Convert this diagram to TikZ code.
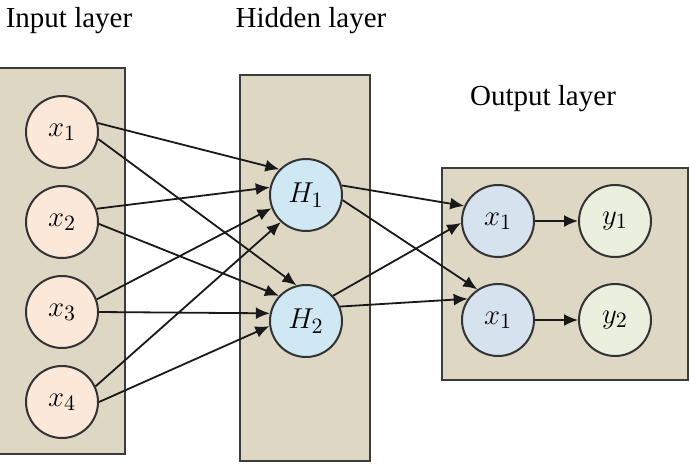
\documentclass[tikz,border=0pt]{standalone}
\usepackage{fontspec}
\setmainfont{Liberation Serif}
\newfontfamily\titlefont{Liberation Serif}
\usepackage{tikz}
\usetikzlibrary{arrows.meta, positioning, fit, backgrounds}
\definecolor{layerTan}{RGB}{221,215,195}
\definecolor{layerEdge}{RGB}{60,60,60}
\definecolor{inFill}{RGB}{252,232,216}
\definecolor{hidFill}{RGB}{208,232,243}
\definecolor{outFill}{RGB}{214,226,238}
\definecolor{resFill}{RGB}{234,239,222}

\begin{document}
\begin{tikzpicture}[
    x=0.5pt, y=-0.5pt,
    neuron/.style={circle, draw=black!80, line width=1pt, minimum size=36pt, inner sep=0pt, font=\fontsize{15}{17}\selectfont},
    layerbox/.style={rectangle, draw=layerEdge, line width=1.1pt, fill=layerTan, inner sep=0pt},
    title/.style={anchor=base, font=\titlefont\fontsize{14.5}{17}\selectfont},
    arrow/.style={-{Latex[length=7pt, width=6pt]}, line width=0.9pt, black!90}
]
\useasboundingbox (0,0) rectangle (690,467);

% --- Input layer ---
\node[neuron, fill=inFill] (in1) at (62,132) {$x_1$};
\node[neuron, fill=inFill, below=8pt of in1] (in2) {$x_2$};
\node[neuron, fill=inFill, below=8pt of in2] (in3) {$x_3$};
\node[neuron, fill=inFill, below=8pt of in3] (in4) {$x_4$};

% --- Hidden layer ---
\node[neuron, fill=hidFill] (hid1) at (306,195) {$H_1$};
\node[neuron, fill=hidFill, below=26pt of hid1] (hid2) {$H_2$};

% --- Output layer ---
\node[neuron, fill=outFill] (outx1) at (498,221) {$x_1$};
\node[neuron, fill=outFill, below=12.5pt of outx1] (outx2) {$x_1$};
\node[neuron, fill=resFill, right=21.5pt of outx1] (outy1) {$y_1$};
\node[neuron, fill=resFill, right=21.5pt of outx2] (outy2) {$y_2$};

% --- Titles ---
\node[title] (inT) at (69,27) {Input layer};
\node[title] (hidT) at (311,27) {Hidden layer};
\node[title] (outT) at (543,105) {Output layer};

% === SETAS ===
% input -> hidden
\draw[arrow] (in1.14) -- (hid1.136);
\draw[arrow] (in1.-11) -- (hid2.105);
\draw[arrow] (in2.21) -- (hid1.168);
\draw[arrow] (in2.-3) -- (hid2.137);
\draw[arrow] (in3.20) -- (hid1.201);
\draw[arrow] (in3.0) -- (hid2.168);
\draw[arrow] (in4.25) -- (hid1.227);
\draw[arrow] (in4.0) -- (hid2.188);

% hidden -> output
\draw[arrow] (hid1.15) -- (outx1.156);
\draw[arrow] (hid1.-8) -- (outx2.124);
\draw[arrow] (hid2.43) -- (outx1.183);
\draw[arrow] (hid2.23) -- (outx2.145);

% output -> y
\draw[arrow] (outx1) -- (outy1);
\draw[arrow] (outx2) -- (outy2);

% Caixas das camadas
\begin{scope}[on background layer]
\node[layerbox, fit={(-3,68) (125,454)}] (inLayer) {};
\node[layerbox, fit={(240,75) (370,461)}] (hidLayer) {};
\node[layerbox, fit={(442,168) (688,380)}] (outLayer) {};
\end{scope}

\end{tikzpicture}
\end{document}
